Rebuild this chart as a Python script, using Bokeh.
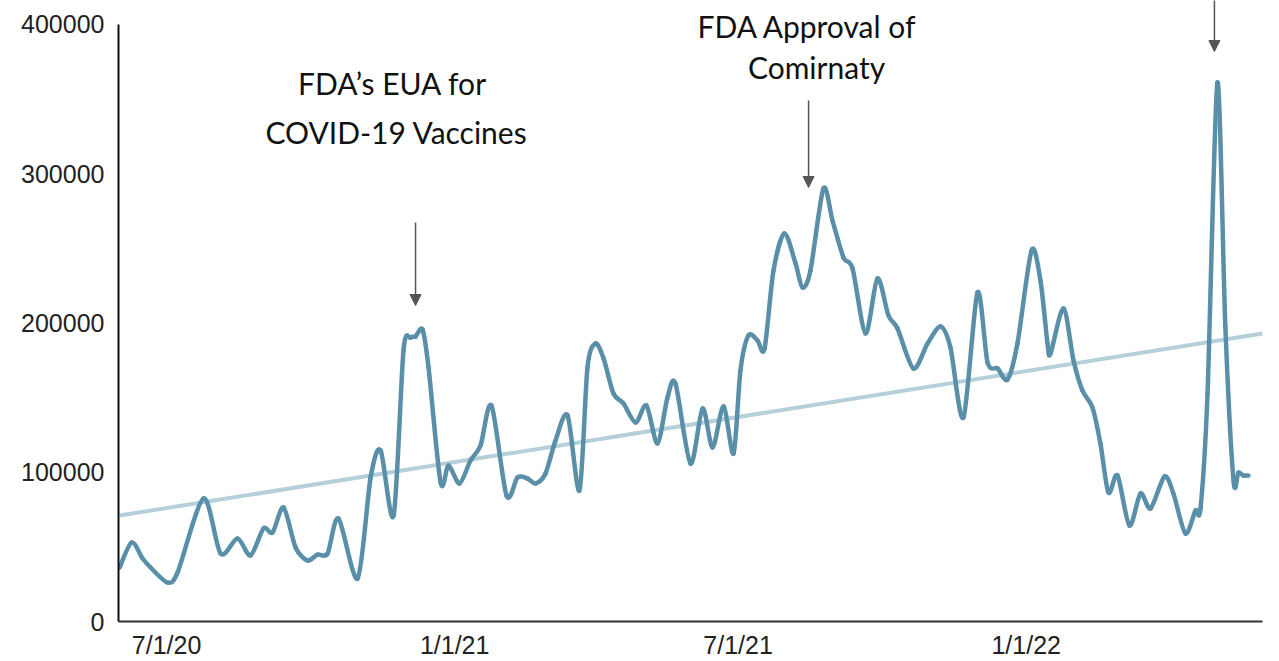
import numpy as np
import pandas as pd
from bokeh.plotting import figure
from bokeh.models import (Range1d, FixedTicker, NumeralTickFormatter, CustomJSTickFormatter,
                          ColumnDataSource, Arrow, NormalHead, Label)
from bokeh.embed import file_html
from bokeh.resources import INLINE

# ---- data ----
start_date = pd.Timestamp("2020-07-01")
# days after 7/1/20
day_offsets = [-30.0, -22.3, -15.3, -10.2, 0.6, 7.0, 23.6, 34.5, 45.3, 53.6, 61.9, 67.7, 74.7, 82.4,
               90.0, 96.4, 102.8, 109.8, 122.0, 130.3, 136.7, 145.0, 151.3, 155.8, 159.0, 163.5,
               167.3, 175.0, 180.1, 187.1, 194.1, 200.5, 207.5, 217.1, 224.1, 230.5, 235.6, 242.0,
               248.4, 256.1, 263.7, 268.8, 273.9, 279.1, 285.4, 291.8, 299.5, 306.5, 313.5, 319.9,
               325.0, 334.6, 342.3, 348.7, 355.7, 362.1, 366.5, 371.6, 377.4, 381.9, 387.6, 394.6,
               401.7, 406.1, 411.2, 419.5, 425.3, 432.3, 438.1, 446.4, 454.0, 461.0, 466.8, 477.0,
               486.0, 494.3, 500.6, 508.9, 517.9, 524.3, 530.7, 537.0, 543.4, 552.4, 558.1, 562.6,
               564.5, 572.8, 579.2, 584.9, 591.3, 596.4, 601.5, 607.3, 614.9, 622.0, 628.4, 637.3,
               643.0, 650.7, 657.1, 660.3, 664.8, 671.1, 676.2, 681.4, 684.5, 687.7, 690.9]
counts = [36180, 52930, 42210, 36180, 26130, 32830, 82410, 45560, 55610, 44220, 62310, 59630, 76380,
          49580, 40870, 44890, 45560, 69010, 28810, 96480, 114570, 71020, 181570, 190280, 190950,
          195640, 170180, 93130, 104520, 92460, 107870, 117920, 144720, 84420, 96480, 95810, 92460,
          99160, 121270, 138020, 87770, 170180, 186260, 176210, 152760, 146060, 133330, 144720,
          119260, 150080, 159460, 105860, 142710, 116580, 144050, 112560, 168170, 191620, 188270,
          182910, 235170, 259960, 239860, 223780, 235170, 290110, 268670, 243880, 236510, 192960,
          229810, 205020, 196310, 169510, 186260, 197650, 183580, 136680, 220430, 173530, 169510,
          162140, 186260, 248570, 228470, 186260, 179560, 209710, 174870, 154770, 143380, 119260,
          86430, 97820, 64320, 85760, 75710, 97150, 85760, 58960, 74370, 75710, 152760, 361130,
          196980, 94470, 99830, 97820, 97820]

trend_days = [-30.0, 699.9]
trend_values = [71000, 193000]

y_ticks = [0, 100000, 200000, 300000, 400000]
y_axis_top = 400000
x_tick_dates = ["2020-07-01", "2021-01-01", "2021-07-01", "2022-01-01"]

annot_lines = ["FDA\u2019s EUA for", "COVID-19 Vaccines", "FDA Approval of", "Comirnaty"]
annot_days = [144.3, 146.9, 409.3, 415.1]
annot_values = [360500, 328300, 398700, 371200]

arrow_days = [159.0, 410.0, 669.2]
arrow_from = [267300, 349100, 417000]
arrow_to = [211700, 290800, 381900]

x_range_days = [-30.7, 699.9]
y_range_vals = [0, 416080]

# ---- build ----
def to_dt(d):
    return start_date + pd.to_timedelta(d, unit="D")

def to_ms(d):
    return to_dt(d).value / 1e6

# smooth (Catmull-Rom style) curve segments through the data points
xs = np.array([to_ms(d) for d in day_offsets])
ys = np.array(counts, dtype=float)
n = len(xs)
k = 0.85 / 6.0
x0, y0, x1, y1, cx0, cy0, cx1, cy1 = [], [], [], [], [], [], [], []
for i in range(n - 1):
    ip = max(i - 1, 0)
    inn = min(i + 2, n - 1)
    x0.append(xs[i]); y0.append(ys[i])
    x1.append(xs[i + 1]); y1.append(ys[i + 1])
    cx0.append(xs[i] + (xs[i + 1] - xs[ip]) * k)
    cy0.append(ys[i] + (ys[i + 1] - ys[ip]) * k)
    cx1.append(xs[i + 1] - (xs[inn] - xs[i]) * k)
    cy1.append(ys[i + 1] - (ys[inn] - ys[i]) * k)
bez_src = ColumnDataSource(dict(x0=x0, y0=y0, x1=x1, y1=y1, cx0=cx0, cy0=cy0, cx1=cx1, cy1=cy1))
trend_src = ColumnDataSource(dict(x=[to_dt(d) for d in trend_days], y=trend_values))

p = figure(width=1279, height=661, x_axis_type="datetime", output_backend="svg",
           toolbar_location=None,
           x_range=Range1d(to_dt(x_range_days[0]), to_dt(x_range_days[1])),
           y_range=Range1d(*y_range_vals),
           min_border_left=118, min_border_right=17, min_border_top=0, min_border_bottom=40)
p.outline_line_color = None
p.grid.visible = False
p.background_fill_color = "white"
p.border_fill_color = "white"

p.line("x", "y", source=trend_src, line_color="#b1ccd9", line_width=4, alpha=0.95)
p.bezier(x0="x0", y0="y0", x1="x1", y1="y1", cx0="cx0", cy0="cy0", cx1="cx1", cy1="cy1",
         source=bez_src, line_color="#5a8fa9", line_width=4.5, line_cap="round")

# axes
p.yaxis.ticker = FixedTicker(ticks=y_ticks)
p.yaxis.bounds = (0, y_axis_top)
p.yaxis.formatter = NumeralTickFormatter(format="0")
p.yaxis.major_tick_line_color = None
p.yaxis.minor_tick_line_color = None
p.yaxis.major_label_standoff = 8
p.yaxis.axis_line_color = "#111111"
p.yaxis.axis_line_width = 2
p.yaxis.major_label_text_font = "Liberation Sans"
p.yaxis.major_label_text_font_size = "25px"
p.yaxis.major_label_text_color = "#222222"

x_ticks_ms = [pd.Timestamp(d).value // 10**6 for d in x_tick_dates]
p.xaxis.ticker = FixedTicker(ticks=x_ticks_ms)
p.xaxis.formatter = CustomJSTickFormatter(code="""
    const d = new Date(tick);
    return (d.getUTCMonth() + 1) + '/' + d.getUTCDate() + '/' + String(d.getUTCFullYear()).slice(2);
""")
p.xaxis.major_tick_line_color = None
p.xaxis.minor_tick_line_color = None
p.xaxis.major_label_standoff = 3
p.xaxis.axis_line_color = "#333333"
p.xaxis.axis_line_width = 2
p.xaxis.major_label_text_font = "Liberation Sans"
p.xaxis.major_label_text_font_size = "25px"
p.xaxis.major_label_text_color = "#222222"

# annotations
for t, d, v in zip(annot_lines, annot_days, annot_values):
    p.add_layout(Label(x=to_dt(d), y=v, text=t, text_align="center", text_baseline="alphabetic",
                       text_font="Lato", text_font_size="30px", text_color="#111111"))

for d, ya, yb in zip(arrow_days, arrow_from, arrow_to):
    p.add_layout(Arrow(x_start=to_dt(d), y_start=ya, x_end=to_dt(d), y_end=yb,
                       line_color="#555555", line_width=1.5,
                       end=NormalHead(size=11, fill_color="#555555", line_color="#555555")))

open("out.html", "w").write(file_html(p, INLINE))
